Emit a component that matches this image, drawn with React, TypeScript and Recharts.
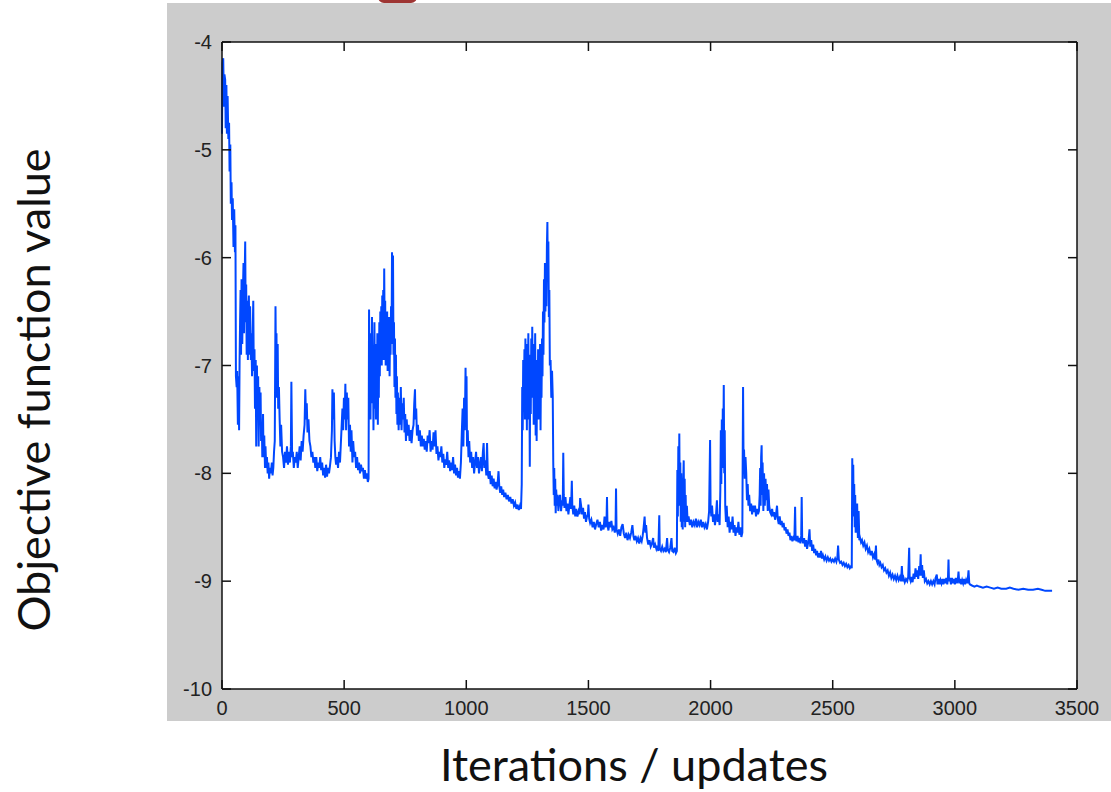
import { LineChart, Line, XAxis, YAxis, CartesianGrid } from 'recharts';

// [iteration, objective] pairs, grouped by stretch of the run
const warmup: [number, number][] = [
  [0, -4.85], [2, -4.2], [5, -4.15], [8, -4.6], [10, -4.3], [13, -4.35], [15, -4.8], [18, -4.4], [20, -4.85],
  [23, -4.5], [26, -4.9], [29, -4.75], [31, -5.2], [34, -4.95], [36, -5.5], [39, -5.3], [41, -5.65], [44, -5.45],
  [47, -5.9], [50, -5.55], [53, -5.95], [55, -5.7], [57, -7.1], [60, -7.2], [62, -7.05], [65, -7.55], [67, -7.1],
  [70, -7.6], [72, -6.95], [74, -6.6], [76, -6.3], [78, -6.9], [80, -6.2], [83, -6.8], [85, -6.4], [88, -6.05],
  [90, -6.7], [92, -6.3], [95, -5.85], [97, -6.6], [99, -6.25], [101, -6.9], [103, -6.4], [106, -6.95], [108, -6.5],
  [110, -6.35], [113, -6.9], [115, -6.45], [118, -6.95], [120, -6.7], [123, -7.1], [125, -6.8], [128, -6.4],
  [130, -7.05], [133, -6.85], [135, -7.4], [138, -6.95], [140, -7.75], [143, -7.0], [145, -7.4], [148, -7.1],
  [150, -7.75], [153, -7.2], [155, -7.5], [158, -7.25], [160, -7.7], [163, -7.55], [165, -7.85], [168, -7.45],
  [170, -7.85], [173, -7.65], [176, -7.95], [178, -7.75], [181, -7.95], [184, -7.85], [187, -8.0], [190, -7.9],
  [193, -8.05], [196, -7.95], [200, -8.0], [204, -7.9], [207, -8.02], [210, -7.95], [213, -7.8], [216, -7.7],
  [219, -6.45], [221, -7.0], [223, -6.7], [225, -7.3], [228, -6.8], [230, -7.4], [233, -7.2], [236, -7.5],
  [239, -7.75], [242, -7.55], [246, -7.8],
];

const firstPlateau: [number, number][] = [
  [250, -7.85], [254, -7.95], [258, -7.8], [262, -7.9], [266, -7.75], [270, -7.92], [274, -7.8], [278, -7.9],
  [282, -7.75], [284, -7.15], [287, -7.85], [290, -7.8], [294, -7.95], [298, -7.85], [302, -7.9], [306, -7.8],
  [310, -7.95], [314, -7.85], [318, -7.75], [322, -7.88], [326, -7.7], [330, -7.8], [334, -7.65], [338, -7.55],
  [341, -7.22], [344, -7.5], [347, -7.35], [350, -7.62], [354, -7.5], [358, -7.7], [362, -7.75], [366, -7.85],
  [370, -7.8], [374, -7.9], [378, -7.85], [382, -7.95], [386, -7.85], [390, -7.98], [394, -7.9], [398, -7.95],
  [402, -7.85], [406, -7.97], [410, -7.9], [414, -8.02], [418, -7.95], [422, -8.04], [426, -7.92], [430, -8.03],
  [434, -7.95], [438, -8.0], [442, -7.93], [446, -7.85], [450, -7.6], [452, -7.22], [455, -7.5], [458, -7.25],
  [461, -7.7], [464, -7.85], [467, -7.92], [471, -7.85], [475, -7.95], [479, -7.8], [483, -7.9], [487, -7.7],
  [490, -7.55], [493, -7.4], [496, -7.6], [499, -7.3], [502, -7.5], [505, -7.17], [508, -7.6], [511, -7.25],
  [514, -7.5], [517, -7.3], [520, -7.75], [524, -7.55], [527, -7.8], [530, -7.6], [534, -7.9], [537, -7.7],
  [541, -7.85], [545, -7.8], [549, -7.95], [553, -7.85], [557, -7.97], [561, -7.9], [565, -8.0], [569, -7.92],
  [573, -7.98], [577, -7.95], [581, -8.05], [585, -7.97], [589, -8.05], [593, -8.0], [597, -8.08], [600, -8.05],
];

const firstBurst: [number, number][] = [
  [602, -6.48], [604, -7.3], [606, -6.9], [608, -7.5], [610, -6.7], [612, -7.2], [614, -6.55], [616, -7.35],
  [618, -6.9], [620, -7.6], [622, -7.0], [624, -6.6], [626, -7.4], [628, -6.8], [630, -7.5], [632, -6.95],
  [634, -7.25], [636, -6.7], [638, -7.55], [640, -6.85], [642, -7.3], [644, -6.6], [646, -7.1], [648, -6.5],
  [650, -6.9], [652, -6.45], [654, -7.0], [656, -6.35], [658, -6.8], [660, -6.3], [662, -6.95], [664, -6.1],
  [666, -6.75], [668, -6.4], [670, -7.0], [672, -6.55], [674, -6.9], [676, -6.5], [678, -7.05], [680, -6.6],
  [682, -6.9], [684, -6.55], [686, -7.1], [688, -6.7], [690, -6.9], [692, -6.45], [694, -6.8], [696, -5.95],
  [698, -6.5], [700, -5.98], [702, -6.9], [704, -6.6], [706, -7.2], [708, -6.75], [710, -7.3], [712, -6.9],
  [714, -7.45], [716, -7.1], [718, -7.55], [720, -7.25], [723, -7.6], [726, -7.3], [729, -7.55], [732, -7.2],
  [735, -7.6], [738, -7.35], [741, -7.5], [744, -7.3], [747, -7.62], [750, -7.45], [753, -7.7], [756, -7.5],
  [760, -7.65], [764, -7.55], [768, -7.7], [772, -7.6], [776, -7.72], [780, -7.6], [784, -7.55], [787, -7.35],
  [790, -7.22], [792, -7.5], [795, -7.4], [798, -7.65], [802, -7.55], [806, -7.7], [810, -7.6], [814, -7.75],
  [818, -7.65], [822, -7.75], [826, -7.68], [830, -7.78], [834, -7.7], [838, -7.8], [842, -7.65], [846, -7.72],
  [850, -7.6], [854, -7.8], [858, -7.7], [862, -7.78], [866, -7.62], [870, -7.75], [874, -7.6], [878, -7.82],
  [882, -7.75], [886, -7.88], [890, -7.8], [894, -7.85], [898, -7.75], [902, -7.9], [906, -7.82], [910, -7.95],
  [914, -7.87], [918, -7.92], [922, -7.8], [926, -7.95], [930, -7.88], [934, -7.98], [938, -7.9], [942, -7.97],
  [946, -7.85], [950, -8.0], [954, -7.92], [958, -8.02], [962, -7.95], [966, -8.04], [970, -7.98], [974, -8.05],
  [978, -7.9], [982, -7.6], [985, -7.4], [988, -7.75], [991, -7.3], [994, -7.6], [997, -7.02], [999, -7.5],
  [1001, -7.1], [1003, -7.75], [1006, -7.6], [1009, -7.85], [1012, -7.7], [1016, -7.9], [1020, -7.8],
];

const secondBurst: [number, number][] = [
  [1024, -7.95], [1028, -7.85], [1032, -8.0], [1036, -7.9], [1040, -7.8], [1044, -7.95], [1048, -7.85],
  [1052, -8.0], [1056, -7.92], [1060, -7.85], [1064, -7.98], [1068, -7.8], [1071, -7.72], [1074, -7.95],
  [1078, -7.88], [1082, -8.02], [1085, -7.72], [1088, -8.0], [1092, -8.05], [1096, -7.98], [1100, -8.1],
  [1104, -8.02], [1108, -8.12], [1112, -8.05], [1116, -8.14], [1120, -8.08], [1124, -8.15], [1128, -8.1],
  [1132, -7.98], [1135, -8.12], [1139, -8.18], [1143, -8.12], [1147, -8.2], [1151, -8.15], [1155, -8.22],
  [1160, -8.18], [1165, -8.24], [1170, -8.2], [1175, -8.26], [1180, -8.22], [1185, -8.28], [1190, -8.24],
  [1195, -8.3], [1200, -8.27], [1205, -8.33], [1210, -8.29], [1215, -8.34], [1220, -8.3], [1224, -8.33],
  [1227, -8.1], [1229, -7.2], [1231, -7.6], [1233, -6.95], [1236, -7.3], [1238, -6.85], [1240, -7.5],
  [1242, -6.75], [1244, -7.4], [1246, -6.95], [1248, -7.6], [1250, -6.8], [1252, -7.35], [1254, -6.7],
  [1256, -7.5], [1258, -7.0], [1260, -7.94], [1262, -6.9], [1264, -7.45], [1266, -6.75], [1268, -7.3],
  [1270, -6.64], [1272, -7.2], [1274, -6.8], [1276, -7.55], [1278, -6.9], [1280, -7.35], [1282, -6.7],
  [1284, -7.65], [1286, -6.95], [1288, -7.7], [1290, -7.0], [1292, -7.4], [1294, -6.85], [1296, -7.5],
  [1298, -6.9], [1300, -7.25], [1302, -6.8], [1304, -7.6], [1306, -6.95], [1308, -7.3], [1310, -6.75],
  [1312, -7.1], [1314, -6.5], [1316, -6.9], [1318, -6.2], [1320, -6.6], [1322, -6.05], [1324, -6.5],
  [1326, -6.1], [1328, -6.45], [1330, -5.9], [1332, -5.67], [1334, -6.2], [1336, -5.85], [1338, -6.55],
  [1340, -6.3], [1342, -7.0], [1345, -6.95], [1348, -7.3], [1351, -7.05], [1354, -7.3], [1356, -7.9],
  [1358, -8.2], [1360, -7.95], [1362, -8.3], [1364, -8.05], [1366, -8.37], [1368, -8.15], [1371, -8.3],
  [1374, -8.2], [1377, -8.35], [1380, -8.25],
];

const longDescent: [number, number][] = [
  [1384, -8.2], [1388, -8.35], [1392, -8.25], [1395, -8.3], [1397, -7.81], [1399, -8.2], [1402, -8.32],
  [1406, -8.22], [1410, -8.35], [1414, -8.28], [1418, -8.38], [1422, -8.3], [1426, -8.22], [1429, -8.33],
  [1432, -8.07], [1434, -8.3], [1438, -8.38], [1442, -8.3], [1446, -8.4], [1450, -8.33], [1455, -8.4],
  [1460, -8.35], [1464, -8.38], [1466, -8.23], [1470, -8.3], [1474, -8.38], [1478, -8.32], [1482, -8.42],
  [1486, -8.36], [1490, -8.45], [1494, -8.4], [1498, -8.38], [1500, -8.29], [1503, -8.42], [1507, -8.46],
  [1512, -8.43], [1517, -8.5], [1522, -8.45], [1527, -8.52], [1532, -8.47], [1537, -8.43], [1542, -8.5],
  [1547, -8.45], [1552, -8.53], [1557, -8.48], [1562, -8.52], [1566, -8.4], [1570, -8.5], [1574, -8.45],
  [1576, -8.22], [1578, -8.48], [1582, -8.53], [1586, -8.45], [1590, -8.5], [1594, -8.44], [1598, -8.52],
  [1603, -8.5], [1608, -8.55], [1611, -8.5], [1613, -8.14], [1615, -8.52], [1620, -8.56], [1625, -8.52],
  [1630, -8.58], [1635, -8.5], [1640, -8.47], [1645, -8.56], [1650, -8.6], [1655, -8.55], [1660, -8.62],
  [1665, -8.57], [1670, -8.6], [1675, -8.55], [1680, -8.48], [1684, -8.58], [1688, -8.62], [1693, -8.58],
  [1698, -8.63], [1703, -8.6], [1708, -8.65], [1713, -8.6], [1718, -8.63], [1722, -8.58], [1726, -8.5],
  [1730, -8.4], [1733, -8.55], [1736, -8.48], [1740, -8.6], [1745, -8.66], [1750, -8.62], [1755, -8.68],
  [1760, -8.65], [1765, -8.6], [1768, -8.69], [1773, -8.66], [1778, -8.7], [1782, -8.67], [1786, -8.72],
  [1790, -8.39], [1792, -8.7], [1797, -8.72], [1802, -8.68], [1807, -8.72], [1812, -8.7], [1817, -8.73],
  [1822, -8.6], [1825, -8.71], [1830, -8.73], [1835, -8.69], [1840, -8.6], [1843, -8.72], [1848, -8.73],
  [1853, -8.69], [1858, -8.74], [1862, -8.72],
];

const lateBursts: [number, number][] = [
  [1864, -7.97], [1866, -8.4], [1868, -7.75], [1870, -8.2], [1872, -7.63], [1874, -8.3], [1876, -7.9],
  [1878, -8.45], [1880, -8.0], [1882, -8.5], [1884, -8.2], [1886, -8.52], [1888, -8.1], [1890, -7.88],
  [1892, -8.45], [1894, -8.05], [1896, -8.5], [1898, -8.2], [1900, -8.45], [1903, -8.3], [1906, -8.45],
  [1910, -8.4], [1915, -8.48], [1920, -8.43], [1925, -8.5], [1930, -8.45], [1935, -8.48], [1940, -8.42],
  [1945, -8.5], [1950, -8.45], [1955, -8.48], [1960, -8.43], [1965, -8.5], [1970, -8.45], [1975, -8.5],
  [1980, -8.47], [1985, -8.52], [1990, -8.45], [1994, -8.35], [1998, -7.69], [2000, -8.3], [2003, -8.4],
  [2006, -8.3], [2010, -8.45], [2014, -8.38], [2018, -8.48], [2022, -8.4], [2026, -8.25], [2029, -8.45],
  [2033, -8.38], [2037, -8.48], [2040, -8.15], [2042, -7.6], [2044, -8.1], [2046, -7.5], [2048, -7.95],
  [2050, -7.4], [2052, -7.8], [2054, -7.18], [2056, -8.0], [2058, -7.6], [2060, -8.3], [2063, -8.45],
  [2066, -8.3], [2070, -8.5], [2074, -8.4], [2078, -8.55], [2082, -8.45], [2086, -8.52], [2090, -8.4],
  [2094, -8.55], [2098, -8.48], [2102, -8.58], [2106, -8.5], [2110, -8.55], [2114, -8.45], [2118, -8.57],
  [2122, -8.5], [2126, -8.59], [2130, -8.55], [2133, -7.2], [2135, -7.9], [2137, -7.78], [2140, -8.05],
  [2143, -7.85], [2146, -8.0], [2149, -8.25], [2152, -8.1], [2155, -8.3], [2158, -8.2], [2162, -8.35],
  [2166, -8.28], [2170, -8.38], [2174, -8.3], [2178, -8.36], [2182, -8.3], [2186, -8.4], [2190, -8.33],
  [2194, -8.38], [2198, -8.35], [2201, -8.2], [2203, -7.95], [2205, -8.3], [2207, -7.85], [2209, -7.74],
  [2211, -8.2], [2213, -7.9], [2216, -8.35], [2219, -8.0], [2222, -8.3], [2225, -8.05], [2228, -8.25],
  [2231, -8.1], [2234, -8.35], [2237, -8.15], [2240, -8.3], [2244, -8.36],
];

const settling: [number, number][] = [
  [2248, -8.38], [2252, -8.33], [2256, -8.4], [2260, -8.36], [2264, -8.43], [2268, -8.38], [2272, -8.3],
  [2275, -8.42], [2279, -8.47], [2283, -8.4], [2287, -8.48], [2291, -8.44], [2295, -8.5], [2299, -8.46],
  [2303, -8.53], [2307, -8.5], [2311, -8.56], [2315, -8.52], [2319, -8.58], [2323, -8.55], [2327, -8.62],
  [2331, -8.58], [2335, -8.63], [2339, -8.6], [2343, -8.62], [2346, -8.31], [2348, -8.6], [2352, -8.63],
  [2356, -8.58], [2360, -8.64], [2364, -8.6], [2368, -8.65], [2371, -8.58], [2373, -8.22], [2375, -8.6],
  [2379, -8.65], [2383, -8.6], [2387, -8.68], [2391, -8.62], [2395, -8.7], [2399, -8.65], [2402, -8.6],
  [2405, -8.52], [2408, -8.68], [2412, -8.62], [2416, -8.72], [2420, -8.66], [2424, -8.74], [2428, -8.7],
  [2432, -8.76], [2436, -8.72], [2440, -8.78], [2444, -8.74], [2448, -8.78], [2452, -8.72], [2456, -8.79],
  [2460, -8.76], [2465, -8.8], [2470, -8.77], [2475, -8.81], [2480, -8.78], [2485, -8.81], [2490, -8.79],
  [2495, -8.82], [2500, -8.8], [2505, -8.82], [2510, -8.79], [2515, -8.82], [2519, -8.78], [2522, -8.67],
  [2525, -8.8], [2530, -8.83], [2535, -8.82], [2540, -8.85], [2545, -8.83], [2550, -8.86], [2555, -8.84],
  [2560, -8.87], [2565, -8.85], [2570, -8.88], [2575, -8.86], [2578, -8.88], [2580, -7.86], [2582, -8.2],
  [2584, -7.92], [2586, -8.4], [2588, -8.1], [2590, -8.5], [2592, -8.2], [2594, -8.55], [2596, -8.3],
  [2598, -8.55], [2600, -8.28], [2603, -8.6], [2606, -8.35], [2609, -8.62], [2612, -8.6],
];

const tail: [number, number][] = [
  [2616, -8.64], [2620, -8.62], [2625, -8.67], [2630, -8.64], [2635, -8.7], [2640, -8.67], [2645, -8.73],
  [2650, -8.7], [2655, -8.76], [2660, -8.72], [2665, -8.78], [2670, -8.75], [2674, -8.8], [2677, -8.67],
  [2679, -8.8], [2683, -8.83], [2687, -8.8], [2691, -8.85], [2695, -8.83], [2700, -8.87], [2705, -8.85],
  [2710, -8.9], [2715, -8.88], [2720, -8.92], [2725, -8.9], [2730, -8.95], [2735, -8.92], [2740, -8.97],
  [2745, -8.94], [2750, -8.98], [2755, -8.95], [2760, -8.99], [2765, -8.95], [2770, -8.99], [2775, -8.96],
  [2780, -9.0], [2783, -8.86], [2786, -9.0], [2790, -8.97], [2795, -9.01], [2800, -8.98], [2805, -9.0],
  [2809, -8.96], [2813, -8.69], [2815, -8.97], [2819, -9.0], [2823, -8.96], [2827, -9.01], [2831, -8.93],
  [2835, -8.98], [2839, -8.88], [2842, -8.96], [2846, -8.9], [2850, -8.98], [2854, -8.86], [2857, -8.95],
  [2860, -8.75], [2862, -8.95], [2866, -8.85], [2869, -8.97], [2873, -8.9], [2877, -9.0], [2882, -8.98],
  [2887, -9.02], [2892, -9.0], [2897, -9.03], [2902, -9.0], [2907, -9.03], [2912, -9.0], [2917, -9.03],
  [2921, -8.97], [2926, -8.94], [2929, -9.03], [2933, -8.98], [2937, -9.03], [2941, -8.99], [2945, -9.02],
  [2949, -8.98], [2953, -9.03], [2957, -8.98], [2961, -9.02], [2965, -8.97], [2969, -9.03], [2972, -8.96],
  [2974, -8.8], [2976, -9.0], [2980, -8.97], [2984, -9.03], [2988, -8.97], [2992, -9.02], [2996, -8.98],
  [3000, -9.03], [3004, -8.97], [3008, -9.02], [3012, -8.99], [3015, -8.91], [3018, -9.02], [3022, -8.98],
  [3026, -9.03], [3030, -8.99], [3034, -9.02], [3038, -8.98], [3042, -9.03], [3046, -8.99], [3050, -9.02],
  [3053, -8.98], [3056, -8.9], [3059, -9.02], [3062, -9.03], [3070, -9.04], [3080, -9.05], [3090, -9.04],
  [3100, -9.05], [3115, -9.06], [3130, -9.05], [3145, -9.06], [3160, -9.07], [3175, -9.06], [3190, -9.07],
  [3210, -9.07], [3225, -9.06], [3240, -9.07], [3260, -9.08], [3280, -9.07], [3300, -9.08], [3320, -9.08],
  [3340, -9.07], [3355, -9.08], [3370, -9.09], [3385, -9.09], [3398, -9.09],
];

const xTicks = [0, 500, 1000, 1500, 2000, 2500, 3000, 3500];
const yTicks = [-10, -9, -8, -7, -6, -5, -4];

const rows = [...warmup, ...firstPlateau, ...firstBurst, ...secondBurst, ...longDescent, ...lateBursts, ...settling, ...tail]
  .map(([it, obj]) => ({ it, obj }));

const INK = '#111';
const TICK_LEN = 9;
const tickFontFamily = '"Liberation Sans", Arial, sans-serif';
const labelFont = 'Lato, "Open Sans", sans-serif';
const frame = { stroke: INK, strokeWidth: 1.5 };

// matlab-style ticks: short marks pointing into the plot box
const BottomTick = ({ x, y, payload }: any) => (
  <g>
    <line x1={x} y1={y} x2={x} y2={y - TICK_LEN} {...frame} />
    <text x={x} y={y + 26} textAnchor="middle" fill="#222" fontSize={20} fontFamily={tickFontFamily}>{payload.value}</text>
  </g>
);
const TopTick = ({ x, y }: any) => <line x1={x} y1={y} x2={x} y2={y + TICK_LEN} {...frame} />;
const LeftTick = ({ x, y, payload }: any) => (
  <g>
    <line x1={x} y1={y} x2={x + TICK_LEN} y2={y} {...frame} />
    <text x={x - 10} y={y + 7} textAnchor="end" fill="#222" fontSize={20} fontFamily={tickFontFamily}>{payload.value}</text>
  </g>
);
const RightTick = ({ x, y }: any) => <line x1={x} y1={y} x2={x - TICK_LEN} y2={y} {...frame} />;

export default function App() {
  return (
    <div style={{ position: 'absolute', left: 0, top: 0, width: 1111, height: 792, background: '#fff', overflow: 'hidden' }}>
      {/* grey figure background */}
      <div style={{ position: 'absolute', left: 167, top: 3, width: 944, height: 718, background: '#cccccc' }} />
      {/* bit of slide decoration cut off at the top edge */}
      <div style={{ position: 'absolute', left: 378, top: -12, width: 33, height: 9, border: '3px solid #9e3533', borderRadius: 6, background: '#e9d4d2' }} />

      <div style={{ position: 'absolute', left: 0, top: 0 }}>
        <LineChart width={1111} height={792} data={rows} margin={{ top: 41, right: 33, bottom: 63, left: 172 }}>
          <CartesianGrid fill="#fff" horizontal={false} vertical={false} />
          <XAxis
            dataKey="it"
            type="number"
            domain={[0, 3500]}
            ticks={xTicks}
            interval={0}
            height={40}
            tickSize={0}
            tickMargin={0}
            tickLine={false}
            axisLine={frame}
            tick={<BottomTick />}
          />
          <XAxis
            xAxisId="top"
            orientation="top"
            dataKey="it"
            type="number"
            domain={[0, 3500]}
            ticks={xTicks}
            interval={0}
            height={1}
            tickSize={0}
            tickMargin={0}
            tickLine={false}
            axisLine={frame}
            tick={<TopTick />}
          />
          <YAxis
            type="number"
            domain={[-10, -4]}
            ticks={yTicks}
            interval={0}
            width={50}
            tickSize={0}
            tickMargin={0}
            tickLine={false}
            axisLine={frame}
            tick={<LeftTick />}
          />
          <YAxis
            yAxisId="right"
            orientation="right"
            type="number"
            domain={[-10, -4]}
            ticks={yTicks}
            interval={0}
            width={1}
            tickSize={0}
            tickMargin={0}
            tickLine={false}
            axisLine={frame}
            tick={<RightTick />}
          />
          <Line
            type="linear"
            dataKey="obj"
            stroke="#0047ff"
            strokeWidth={2}
            dot={false}
            activeDot={false}
            isAnimationActive={false}
          />
          {/* same series bound to the mirrored axes so the box frame gets drawn */}
          <Line
            xAxisId="top"
            yAxisId="right"
            type="linear"
            dataKey="obj"
            stroke="none"
            dot={false}
            activeDot={false}
            legendType="none"
            isAnimationActive={false}
          />
        </LineChart>
      </div>

      <div
        style={{
          position: 'absolute', left: 634, top: 764, transform: 'translate(-50%, -50%)',
          fontFamily: labelFont, fontSize: 45, color: '#111', whiteSpace: 'nowrap', lineHeight: 1.2,
        }}
      >
        Iterations / updates
      </div>
      <div
        style={{
          position: 'absolute', left: 33, top: 390, transform: 'translate(-50%, -50%) rotate(-90deg)',
          fontFamily: labelFont, fontSize: 45, color: '#111', whiteSpace: 'nowrap', lineHeight: 1.2,
        }}
      >
        Objective function value
      </div>
    </div>
  );
}
